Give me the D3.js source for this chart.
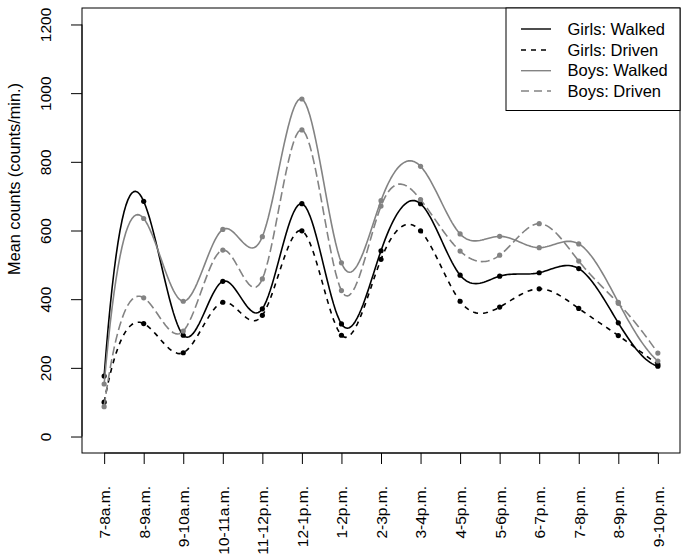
<!DOCTYPE html>
<html>
<head>
<meta charset="utf-8">
<script src="https://cdn.jsdelivr.net/npm/d3@7/dist/d3.min.js"></script>
<style>
  html, body { margin: 0; padding: 0; background: #fff; }
  svg { display: block; font-family: "Liberation Sans", Arial, sans-serif; }
</style>
</head>
<body>
<svg id="chart" width="685" height="554"></svg>
<script>
// ---- data ----
const categories = ["7-8a.m.", "8-9a.m.", "9-10a.m.", "10-11a.m.", "11-12p.m.", "12-1p.m.", "1-2p.m.",
  "2-3p.m.", "3-4p.m.", "4-5p.m.", "5-6p.m.", "6-7p.m.", "7-8p.m.", "8-9p.m.", "9-10p.m."];
const girlsWalked = [176, 685, 295, 452, 372, 678, 328, 541, 678, 470, 467, 477, 489, 331, 205];
const girlsDriven = [100, 329, 244, 391, 353, 599, 295, 516, 599, 394, 377, 430, 373, 294, 210];
const boysWalked  = [153, 635, 394, 603, 582, 983, 506, 687, 787, 590, 583, 550, 561, 391, 220];
const boysDriven  = [87, 404, 307, 543, 459, 893, 425, 671, 690, 540, 528, 620, 511, 388, 243];
const seriesNames = ["Girls: Walked", "Girls: Driven", "Boys: Walked", "Boys: Driven"];
const yTicks = [0, 200, 400, 600, 800, 1000, 1200];
const yTitle = "Mean counts (counts/min.)";

// ---- styles ----
const GRAY = "#838383";
const series = [
  { name: seriesNames[0], values: girlsWalked, color: "#000", dash: null },
  { name: seriesNames[1], values: girlsDriven, color: "#000", dash: "5,5" },
  { name: seriesNames[2], values: boysWalked,  color: GRAY,  dash: null },
  { name: seriesNames[3], values: boysDriven,  color: GRAY,  dash: "9,4" }
];

// Forsythe-Malcolm-Moler cubic interpolating spline (as in R's spline(), method "fmm")
function fmmSpline(xs, ys) {
  const n = xs.length;
  const x = [0, ...xs], y = [0, ...ys];
  const b = new Array(n + 1).fill(0), c = new Array(n + 1).fill(0), d = new Array(n + 1).fill(0);
  const nm1 = n - 1;
  d[1] = x[2] - x[1];
  c[2] = (y[2] - y[1]) / d[1];
  for (let i = 2; i < n; i++) {
    d[i] = x[i + 1] - x[i];
    b[i] = 2 * (d[i - 1] + d[i]);
    c[i + 1] = (y[i + 1] - y[i]) / d[i];
    c[i] = c[i + 1] - c[i];
  }
  b[1] = -d[1];
  b[n] = -d[nm1];
  c[1] = c[n] = 0;
  if (n > 3) {
    c[1] = c[3] / (x[4] - x[2]) - c[2] / (x[3] - x[1]);
    c[n] = c[nm1] / (x[n] - x[n - 2]) - c[n - 2] / (x[nm1] - x[n - 3]);
    c[1] = c[1] * d[1] * d[1] / (x[4] - x[1]);
    c[n] = -c[n] * d[nm1] * d[nm1] / (x[n] - x[n - 3]);
  }
  for (let i = 2; i <= n; i++) {
    const t = d[i - 1] / b[i - 1];
    b[i] = b[i] - t * d[i - 1];
    c[i] = c[i] - t * c[i - 1];
  }
  c[n] = c[n] / b[n];
  for (let i = nm1; i >= 1; i--) c[i] = (c[i] - d[i] * c[i + 1]) / b[i];
  b[n] = (y[n] - y[n - 1]) / d[n - 1] + d[n - 1] * (c[n - 1] + 2 * c[n]);
  for (let i = 1; i <= nm1; i++) {
    b[i] = (y[i + 1] - y[i]) / d[i] - d[i] * (c[i + 1] + 2 * c[i]);
    d[i] = (c[i + 1] - c[i]) / d[i];
    c[i] = 3 * c[i];
  }
  c[n] = 3 * c[n];
  d[n] = d[nm1];
  return function(u) {
    let i = 1;
    while (i < nm1 && u > x[i + 1]) i++;
    const dx = u - x[i];
    return y[i] + dx * (b[i] + dx * (c[i] + dx * d[i]));
  };
}

const box = { left: 82, right: 680, top: 8, bottom: 453 };
const svg = d3.select("#chart");

const n = categories.length;
const idx = d3.range(1, n + 1);
const x = d3.scaleLinear().domain([1 - 0.04 * (n - 1), n + 0.04 * (n - 1)]).range([box.left, box.right]);
const y = d3.scaleLinear().domain([-48, 1248]).range([box.bottom, box.top]);

// frame
svg.append("rect")
  .attr("x", box.left).attr("y", box.top)
  .attr("width", box.right - box.left).attr("height", box.bottom - box.top)
  .attr("fill", "none").attr("stroke", "#000").attr("stroke-width", 1);

// y axis
const yAxisG = svg.append("g").attr("transform", `translate(${box.left},0)`)
  .call(d3.axisLeft(y).tickValues(yTicks).tickSize(11).tickSizeOuter(0).tickFormat(d3.format("d")));
yAxisG.select(".domain").attr("d", `M0,${y(0)}V${y(1200)}`);
yAxisG.selectAll(".tick text")
  .attr("font-size", 15.5).attr("fill", "#000")
  .attr("text-anchor", "middle")
  .attr("x", 0).attr("y", 0).attr("dy", 0)
  .attr("transform", "translate(-31,0) rotate(-90)");
yAxisG.attr("font-family", null);

// x axis
const xAxisG = svg.append("g").attr("transform", `translate(0,${box.bottom})`)
  .call(d3.axisBottom(x).tickValues(idx).tickSize(11).tickSizeOuter(0)
    .tickFormat(d => categories[d - 1]));
xAxisG.select(".domain").attr("d", `M${x(1)},0H${x(n)}`);
xAxisG.selectAll(".tick text")
  .attr("font-size", 15.5).attr("fill", "#000")
  .attr("text-anchor", "end")
  .attr("x", 0).attr("y", 0).attr("dy", "0.35em")
  .attr("transform", "translate(0,33) rotate(-90)");
xAxisG.attr("font-family", null);

// y title
svg.append("text")
  .attr("transform", `translate(20,179) rotate(-90)`)
  .attr("text-anchor", "middle")
  .attr("font-size", 16.3)
  .attr("fill", "#000")
  .text(yTitle);

// lines (spline-interpolated, sampled densely)
const line = d3.line().x(d => x(d[0])).y(d => y(d[1]));
const samples = d3.range(1, n + 0.0001, 0.05);

series.forEach(s => {
  const f = fmmSpline(idx, s.values);
  const pts = samples.map(u => [u, f(u)]);
  svg.append("path")
    .datum(pts)
    .attr("d", line)
    .attr("fill", "none")
    .attr("stroke", s.color)
    .attr("stroke-width", 1.6)
    .attr("stroke-linejoin", "round")
    .attr("stroke-dasharray", s.dash);
  svg.append("g").selectAll("circle")
    .data(s.values)
    .join("circle")
    .attr("cx", (d, i) => x(i + 1))
    .attr("cy", d => y(d))
    .attr("r", 2.6)
    .attr("fill", s.color);
});

// legend
const lg = svg.append("g");
lg.append("rect")
  .attr("x", 506).attr("y", box.top)
  .attr("width", box.right - 506).attr("height", 110.5 - box.top)
  .attr("fill", "#fff").attr("stroke", "#000").attr("stroke-width", 1);
const rowY = [29, 50, 70.7, 91];
series.forEach((s, i) => {
  lg.append("line")
    .attr("x1", 521).attr("x2", 551)
    .attr("y1", rowY[i]).attr("y2", rowY[i])
    .attr("stroke", s.color).attr("stroke-width", 1.4)
    .attr("stroke-dasharray", s.dash ? (i === 1 ? "5,5" : "8,5") : null);
  lg.append("text")
    .attr("x", 567.5).attr("y", rowY[i]).attr("dy", "0.35em")
    .attr("font-size", 16.5).attr("fill", "#000")
    .text(s.name);
});
</script>
</body>
</html>
